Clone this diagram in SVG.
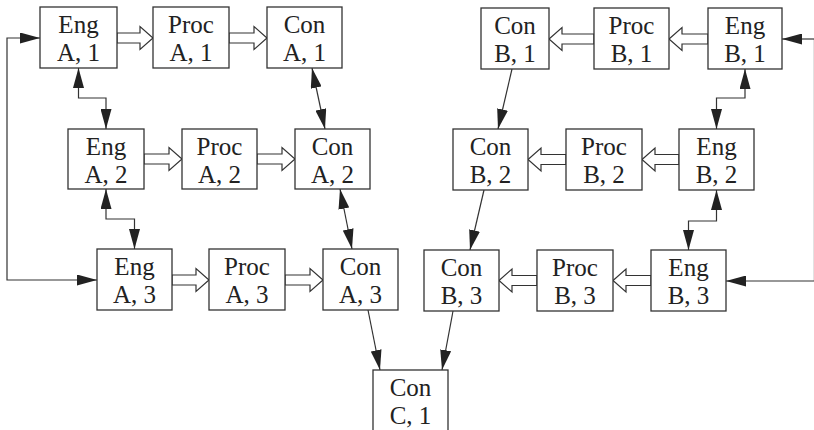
<svg xmlns="http://www.w3.org/2000/svg" width="814" height="430" viewBox="0 0 814 430">
  <style>
    .box rect { fill: #fff; stroke: #333; stroke-width: 1.3; }
    .box text { font-family: "Liberation Serif", "Times New Roman", serif; font-size: 25px; fill: #222; text-anchor: middle; }
    .wire { fill: none; stroke: #333; stroke-width: 1.2; }
    .both { marker-start: url(#head); marker-end: url(#head); }
    .one { marker-end: url(#head); }
    .flow { fill: #fff; stroke: #333; stroke-width: 1.2; stroke-linejoin: miter; }
  </style>
  <defs>
    <marker id="head" markerUnits="userSpaceOnUse" markerWidth="20" markerHeight="11" refX="20" refY="5.5" orient="auto-start-reverse" viewBox="0 0 20 11">
      <path d="M0,0 L20,5.5 L0,11 Z" fill="#222"/>
    </marker>
  </defs>

  <rect width="814" height="430" fill="#fff"/>

  <!-- hollow flow arrows between stages -->
  <g id="flows">
    <!-- row A1 -->
    <polygon class="flow" points="117,33 140,33 140,26.5 153,38 140,49.5 140,43 117,43"/>
    <polygon class="flow" points="229,33 254,33 254,26.5 267,38 254,49.5 254,43 229,43"/>
    <!-- row B1 -->
    <polygon class="flow" points="708,34 682,34 682,27.5 669,39 682,50.5 682,44 708,44"/>
    <polygon class="flow" points="594,34 562,34 562,27.5 549,39 562,50.5 562,44 594,44"/>
    <!-- row A2 -->
    <polygon class="flow" points="144,154 169,154 169,147.5 182,159 169,170.5 169,164 144,164"/>
    <polygon class="flow" points="257,154 282,154 282,147.5 295,159 282,170.5 282,164 257,164"/>
    <!-- row B2 -->
    <polygon class="flow" points="679,154.5 655,154.5 655,148 642,159.5 655,171 655,164.5 679,164.5"/>
    <polygon class="flow" points="566,154.5 541,154.5 541,148 528,159.5 541,171 541,164.5 566,164.5"/>
    <!-- row A3 -->
    <polygon class="flow" points="172,275 196,275 196,268.5 209,280 196,291.5 196,285 172,285"/>
    <polygon class="flow" points="285,275 310,275 310,268.5 323,280 310,291.5 310,285 285,285"/>
    <!-- row B3 -->
    <polygon class="flow" points="651,275.5 626,275.5 626,269 613,280.5 626,292 626,285.5 651,285.5"/>
    <polygon class="flow" points="537,275.5 512,275.5 512,269 499,280.5 512,292 512,285.5 537,285.5"/>
  </g>

  <!-- single-line connectors -->
  <g id="connectors">
    <polyline class="wire both" points="97,280 7,280 7,38 40,38"/>
    <line x1="813.5" y1="39" x2="813.5" y2="281" stroke="#e2e2e2" stroke-width="1"/>
    <line class="wire one" x1="814" y1="39" x2="782" y2="39"/>
    <line class="wire one" x1="814" y1="281" x2="726" y2="281"/>

    <polyline class="wire both" points="78.5,68 78.5,98 106,98 106,129"/>
    <polyline class="wire both" points="106,189 106,219 134.5,219 134.5,249"/>
    <line class="wire both" x1="312" y1="68" x2="325" y2="129"/>
    <line class="wire both" x1="340" y1="189" x2="352" y2="249"/>
    <line class="wire one" x1="368" y1="310" x2="380" y2="370"/>

    <line class="wire one" x1="512" y1="69" x2="498" y2="129"/>
    <line class="wire one" x1="484" y1="190" x2="470" y2="250"/>
    <line class="wire one" x1="453" y1="311" x2="442" y2="370"/>
    <polyline class="wire both" points="745,69 745,98 716.5,98 716.5,129"/>
    <polyline class="wire both" points="716.5,190 716.5,221 688.5,221 688.5,250"/>
  </g>

  <!-- stage boxes -->
  <g id="eng-a1" class="box"><rect x="40" y="7" width="77" height="61"/><text x="78.5" y="33">Eng</text><text x="78.5" y="61">A, 1</text></g>
  <g id="proc-a1" class="box"><rect x="153" y="7" width="76" height="61"/><text x="191" y="33">Proc</text><text x="191" y="61">A, 1</text></g>
  <g id="con-a1" class="box"><rect x="267" y="7" width="75" height="61"/><text x="304.5" y="33">Con</text><text x="304.5" y="61">A, 1</text></g>

  <g id="con-b1" class="box"><rect x="481" y="8" width="68" height="61"/><text x="515" y="34">Con</text><text x="515" y="62">B, 1</text></g>
  <g id="proc-b1" class="box"><rect x="594" y="8" width="75" height="61"/><text x="631.5" y="34">Proc</text><text x="631.5" y="62">B, 1</text></g>
  <g id="eng-b1" class="box"><rect x="708" y="8" width="74" height="61"/><text x="745" y="34">Eng</text><text x="745" y="62">B, 1</text></g>

  <g id="eng-a2" class="box"><rect x="68" y="129" width="76" height="60"/><text x="106" y="154.5">Eng</text><text x="106" y="182.5">A, 2</text></g>
  <g id="proc-a2" class="box"><rect x="182" y="129" width="75" height="60"/><text x="219.5" y="154.5">Proc</text><text x="219.5" y="182.5">A, 2</text></g>
  <g id="con-a2" class="box"><rect x="295" y="129" width="75" height="60"/><text x="332.5" y="154.5">Con</text><text x="332.5" y="182.5">A, 2</text></g>

  <g id="con-b2" class="box"><rect x="453" y="129" width="75" height="61"/><text x="490.5" y="155">Con</text><text x="490.5" y="183">B, 2</text></g>
  <g id="proc-b2" class="box"><rect x="566" y="129" width="76" height="61"/><text x="604" y="155">Proc</text><text x="604" y="183">B, 2</text></g>
  <g id="eng-b2" class="box"><rect x="679" y="129" width="75" height="61"/><text x="716.5" y="155">Eng</text><text x="716.5" y="183">B, 2</text></g>

  <g id="eng-a3" class="box"><rect x="97" y="249" width="75" height="61"/><text x="134.5" y="275">Eng</text><text x="134.5" y="303">A, 3</text></g>
  <g id="proc-a3" class="box"><rect x="209" y="249" width="76" height="61"/><text x="247" y="275">Proc</text><text x="247" y="303">A, 3</text></g>
  <g id="con-a3" class="box"><rect x="323" y="249" width="75" height="61"/><text x="360.5" y="275">Con</text><text x="360.5" y="303">A, 3</text></g>

  <g id="con-b3" class="box"><rect x="424" y="250" width="75" height="61"/><text x="461.5" y="276">Con</text><text x="461.5" y="304">B, 3</text></g>
  <g id="proc-b3" class="box"><rect x="537" y="250" width="76" height="61"/><text x="575" y="276">Proc</text><text x="575" y="304">B, 3</text></g>
  <g id="eng-b3" class="box"><rect x="651" y="250" width="75" height="61"/><text x="688.5" y="276">Eng</text><text x="688.5" y="304">B, 3</text></g>

  <g id="con-c1" class="box"><rect x="373" y="370" width="75" height="62"/><text x="410.5" y="396">Con</text><text x="410.5" y="424">C, 1</text></g>
</svg>
